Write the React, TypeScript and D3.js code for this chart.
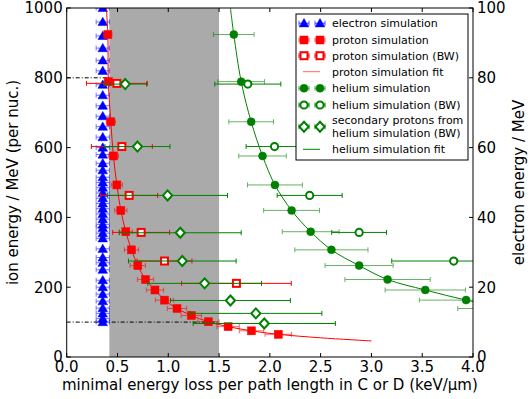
import React from 'react';
import * as d3 from 'd3';

// ion energy grid (MeV per nucleon) and minimal dE/dx (keV/um)
const protonEnergy = [924, 789, 674, 576, 493, 420, 359, 307, 262, 222, 192, 163, 139, 119, 101, 87, 75, 65];
const protonDedx = [0.405, 0.41, 0.434, 0.46, 0.494, 0.533, 0.582, 0.638, 0.7, 0.776, 0.869, 0.963, 1.086, 1.227, 1.395, 1.589, 1.819, 2.083];
const protonErr = [0.04, 0.04, 0.045, 0.05, 0.055, 0.06, 0.065, 0.07, 0.075, 0.08, 0.085, 0.09, 0.095, 0.1, 0.105, 0.11, 0.12, 0.13];

const protonFitEnergy = [1000, 924, 789, 674, 576, 493, 420, 359, 307, 262, 222, 192, 163, 139, 119, 101, 87, 75, 65, 55, 46];
const protonFitDedx = [0.39, 0.405, 0.41, 0.434, 0.46, 0.494, 0.533, 0.582, 0.638, 0.7, 0.776, 0.869, 0.963, 1.086, 1.227, 1.395, 1.589, 1.819, 2.083, 2.5, 3.0];

const protonBWEnergy = [784, 603, 463, 357, 275, 211];
const protonBWDedx = [0.494, 0.543, 0.615, 0.733, 0.963, 1.671];
const protonBWErr = [0.3, 0.3, 0.28, 0.28, 0.27, 0.54];

const secondaryEnergy = [782, 603, 463, 356, 275, 211, 162, 125, 96];
const secondaryDedx = [0.576, 0.697, 0.993, 1.118, 1.138, 1.358, 1.612, 1.862, 1.945];
const secondaryErr = [0.21, 0.32, 0.59, 0.6, 0.53, 0.56, 0.59, 0.65, 0.7];

const heliumEnergy = [924, 789, 674, 576, 493, 420, 359, 307, 262, 222, 192, 163, 139];
const heliumDedx = [1.645, 1.718, 1.816, 1.928, 2.05, 2.214, 2.402, 2.606, 2.879, 3.159, 3.53, 3.932, 4.35];
const heliumErr = [0.2, 0.23, 0.22, 0.234, 0.27, 0.275, 0.28, 0.36, 0.335, 0.42, 0.395, 0.46, 0.5];

const heliumFitEnergy = [1000, 924, 789, 674, 576, 493, 420, 359, 307, 262, 222, 192, 163, 139];
const heliumFitDedx = [1.612, 1.645, 1.718, 1.816, 1.928, 2.05, 2.214, 2.402, 2.606, 2.879, 3.159, 3.53, 3.932, 4.35];

const heliumBWEnergy = [782, 603, 463, 357, 275];
const heliumBWDedx = [1.783, 2.046, 2.392, 2.879, 3.81];
const heliumBWErr = [0.325, 0.28, 0.32, 0.27, 0.61];

// electron energy (MeV, right axis)
const electronEnergy = [100, 96, 92, 88.5, 85, 82, 78, 75, 72, 69, 66, 63, 60, 58, 55.5, 53.5, 51.5, 50, 48.5, 47, 45.5, 44, 42.5, 41, 39.5, 38, 37, 35.5, 34, 31, 28.5, 27, 25, 22, 20, 18, 16, 14, 12.5, 11, 10];
const electronDedx = [0.355, 0.355, 0.355, 0.355, 0.355, 0.355, 0.355, 0.355, 0.355, 0.355, 0.355, 0.355, 0.355, 0.355, 0.355, 0.355, 0.355, 0.355, 0.355, 0.355, 0.355, 0.355, 0.355, 0.355, 0.355, 0.355, 0.355, 0.355, 0.355, 0.355, 0.355, 0.355, 0.355, 0.355, 0.355, 0.355, 0.355, 0.355, 0.355, 0.355, 0.355];
const electronErr = 0.065;

const shadedRange = [0.42, 1.5];

const legendItems = [
  'electron simulation',
  'proton simulation',
  'proton simulation (BW)',
  'proton simulation fit',
  'helium simulation',
  'helium simulation (BW)',
  'secondary protons from\nhelium simulation (BW)',
  'helium simulation fit',
];

const W = 532, H = 399;
const left = 66.7, right = 473, top = 8, bottom = 357;
const font = 'DejaVu Sans, sans-serif';
const BLUE = '#0000ff', RED = '#ff0000', GREEN = '#008000';

const x = d3.scaleLinear().domain([0, 4]).range([left, right]);
const y = d3.scaleLinear().domain([0, 1000]).range([bottom, top]);
const yE = d3.scaleLinear().domain([0, 100]).range([bottom, top]);

function ErrBar({ cx, cy, lo, hi, color, opacity = 1 }) {
  return (
    <g stroke={color} strokeWidth={1} opacity={opacity}>
      <line x1={lo} x2={hi} y1={cy} y2={cy} />
      <line x1={lo} x2={lo} y1={cy - 2.5} y2={cy + 2.5} />
      <line x1={hi} x2={hi} y1={cy - 2.5} y2={cy + 2.5} />
    </g>
  );
}

function Marker({ kind, cx, cy }) {
  switch (kind) {
    case 'tri':
      return <path d={d3.symbol(d3.symbolTriangle, 40)()} transform={`translate(${cx},${cy + 0.8})`} fill={BLUE} stroke={BLUE} strokeWidth={0.5} />;
    case 'sq':
      return <rect x={cx - 4} y={cy - 4} width={8} height={8} fill={RED} stroke={RED} strokeWidth={0.5} />;
    case 'sqo':
      return <rect x={cx - 3.5} y={cy - 3.5} width={7} height={7} fill="white" stroke={RED} strokeWidth={2} />;
    case 'circ':
      return <circle cx={cx} cy={cy} r={4} fill={GREEN} stroke={GREEN} strokeWidth={0.5} />;
    case 'circo':
      return <circle cx={cx} cy={cy} r={3.6} fill="white" stroke={GREEN} strokeWidth={2} />;
    case 'dia':
      return <path d={`M${cx},${cy - 5}L${cx + 4.6},${cy}L${cx},${cy + 5}L${cx - 4.6},${cy}Z`} fill="white" stroke={GREEN} strokeWidth={2} />;
    default:
      return null;
  }
}

function Series({ dedx, energy, err, scale, kind, color, barOpacity }) {
  return (
    <g>
      {dedx.map((d, i) => {
        const e = Array.isArray(err) ? err[i] : err;
        return <ErrBar key={'e' + i} cx={x(d)} cy={scale(energy[i])} lo={x(d - e)} hi={x(d + e)} color={color} opacity={barOpacity} />;
      })}
      {dedx.map((d, i) => <Marker key={'m' + i} kind={kind} cx={x(d)} cy={scale(energy[i])} />)}
    </g>
  );
}

export default function App() {
  const fitLine = d3.line().curve(d3.curveCatmullRom);
  const protonFit = fitLine(protonFitDedx.map((d, i) => [x(d), y(protonFitEnergy[i])]));
  const heliumFit = fitLine(heliumFitDedx.map((d, i) => [x(d), y(heliumFitEnergy[i])]));

  const xTicks = x.ticks(8);
  const yTicks = y.ticks(5);
  const yETicks = yE.ticks(5);

  const legX = 296, legY = 14, legW = 172, legH = 146;
  const rowY = [23.3, 40, 55.7, 71.7, 88.3, 105, 126.7, 149.3];
  const legendKinds = ['tri', 'sq', 'sqo', 'line', 'circ', 'circo', 'dia', 'line'];
  const legendColors = [BLUE, RED, RED, '#ff6666', GREEN, GREEN, GREEN, GREEN];

  return (
    <svg width={W} height={H} style={{ position: 'absolute', left: 0, top: 0, background: 'white' }} fontFamily={font}>
      <defs>
        <clipPath id="plot">
          <rect x={left} y={top} width={right - left} height={bottom - top} />
        </clipPath>
      </defs>
      <rect x={0} y={0} width={W} height={H} fill="white" />
      <g clipPath="url(#plot)">
        <rect x={x(shadedRange[0])} y={top} width={x(shadedRange[1]) - x(shadedRange[0])} height={bottom - top} fill="#aaaaaa" />
        <line x1={left} x2={x(shadedRange[0])} y1={y(800)} y2={y(800)} stroke="black" strokeWidth={1} strokeDasharray="4,2,1,2" />
        <line x1={left} x2={x(shadedRange[1])} y1={y(100)} y2={y(100)} stroke="black" strokeWidth={1} strokeDasharray="4,2,1,2" />

        <Series dedx={electronDedx} energy={electronEnergy} err={electronErr} scale={yE} kind="tri" color={BLUE} barOpacity={0.55} />

        <path d={protonFit} fill="none" stroke={RED} strokeWidth={1} />
        <path d={heliumFit} fill="none" stroke={GREEN} strokeWidth={1} />

        <Series dedx={protonDedx} energy={protonEnergy} err={protonErr} scale={y} kind="sq" color={RED} barOpacity={0.6} />
        <Series dedx={protonBWDedx} energy={protonBWEnergy} err={protonBWErr} scale={y} kind="sqo" color={RED} barOpacity={1} />
        <Series dedx={heliumDedx} energy={heliumEnergy} err={heliumErr} scale={y} kind="circ" color={GREEN} barOpacity={0.6} />
        <Series dedx={heliumBWDedx} energy={heliumBWEnergy} err={heliumBWErr} scale={y} kind="circo" color={GREEN} barOpacity={1} />
        <Series dedx={secondaryDedx} energy={secondaryEnergy} err={secondaryErr} scale={y} kind="dia" color={GREEN} barOpacity={1} />
      </g>

      {/* frame and inward ticks */}
      <rect x={left} y={top} width={right - left} height={bottom - top} fill="none" stroke="black" strokeWidth={1} />
      {xTicks.map(t => (
        <g key={'xt' + t} stroke="black" strokeWidth={1}>
          <line x1={x(t)} x2={x(t)} y1={bottom} y2={bottom - 4} />
          <line x1={x(t)} x2={x(t)} y1={top} y2={top + 4} />
        </g>
      ))}
      {yTicks.map(t => <line key={'yt' + t} x1={left} x2={left + 4} y1={y(t)} y2={y(t)} stroke="black" />)}
      {yETicks.map(t => <line key={'ye' + t} x1={right} x2={right - 4} y1={yE(t)} y2={yE(t)} stroke="black" />)}

      <g fontSize={15} fill="black">
        {xTicks.map(t => (
          <text key={'xl' + t} x={x(t)} y={bottom + 15} textAnchor="middle">{d3.format('.1f')(t)}</text>
        ))}
        {yTicks.map(t => (
          <text key={'yl' + t} x={left - 4} y={y(t)} dy="0.36em" textAnchor="end">{t}</text>
        ))}
        {yETicks.map(t => (
          <text key={'yel' + t} x={right + 4} y={yE(t)} dy="0.36em" textAnchor="start">{t}</text>
        ))}
        <text x={(left + right) / 2} y={390} textAnchor="middle">minimal energy loss per path length in C or D (keV/μm)</text>
        <text transform={`translate(18,${(top + bottom) / 2}) rotate(-90)`} textAnchor="middle">ion energy / MeV (per nuc.)</text>
        <text transform={`translate(524,${(top + bottom) / 2}) rotate(-90)`} textAnchor="middle">electron energy / MeV</text>
      </g>

      {/* legend */}
      <rect x={legX} y={legY} width={legW} height={legH} fill="white" stroke="black" strokeWidth={1} />
      {legendItems.map((label, i) => {
        const ry = rowY[i];
        const kind = legendKinds[i];
        const col = legendColors[i];
        const lines = label.split('\n');
        return (
          <g key={'lg' + i}>
            {kind === 'line' ? (
              <line x1={303} x2={320} y1={ry} y2={ry} stroke={col} strokeWidth={1} />
            ) : (
              [304, 320].map(mx => (
                <g key={mx}>
                  <ErrBar cx={mx} cy={ry} lo={mx - 5} hi={mx + 5} color={col} opacity={kind === 'sqo' || kind === 'circo' || kind === 'dia' ? 1 : 0.7} />
                  <Marker kind={kind} cx={mx} cy={ry} />
                </g>
              ))
            )}
            <text x={332} y={lines.length > 1 ? ry - 6.5 : ry} fontSize={11}>
              {lines.map((ln, j) => (
                <tspan key={j} x={332} dy={j === 0 ? '0.36em' : 13}>{ln}</tspan>
              ))}
            </text>
          </g>
        );
      })}
    </svg>
  );
}
